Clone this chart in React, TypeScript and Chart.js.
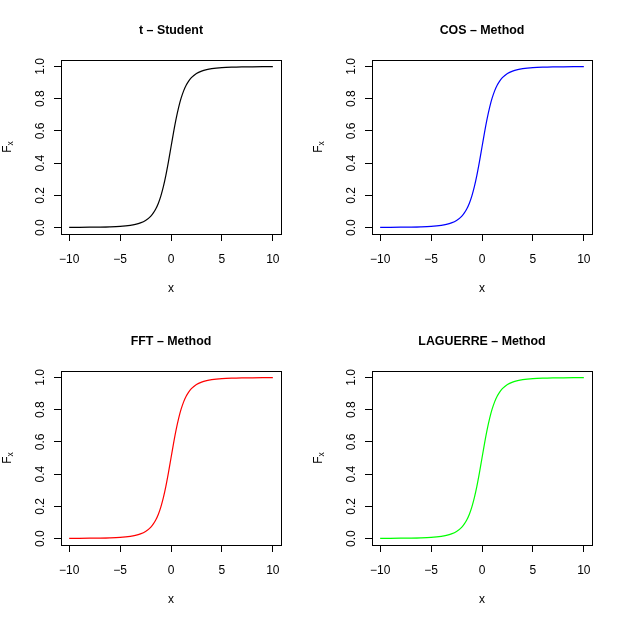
import React, { useEffect, useRef } from "react";
import { Chart, registerables } from "chart.js";

Chart.register(...registerables);

// x grid on which the distribution function was read
const xValues = [
  -10, -9, -8, -7, -6, -5, -4, -3.5, -3, -2.5, -2, -1.75, -1.5, -1.25, -1, -0.75, -0.5, -0.25,
  0, 0.25, 0.5, 0.75, 1, 1.25, 1.5, 1.75, 2, 2.5, 3, 3.5, 4, 5, 6, 7, 8, 9, 10,
];

const studentValues = [
  0.001, 0.0014, 0.0021, 0.003, 0.0046, 0.0077, 0.014, 0.0197, 0.0288, 0.0437, 0.0697, 0.0892,
  0.1153, 0.1499, 0.1955, 0.2538, 0.3257, 0.4094, 0.5, 0.5906, 0.6743, 0.7462, 0.8045, 0.8501,
  0.8847, 0.9108, 0.9303, 0.9563, 0.9712, 0.9803, 0.986, 0.9923, 0.9954, 0.997, 0.9979, 0.9986,
  0.999,
];

const cosValues = [
  0.001, 0.0014, 0.0021, 0.003, 0.0046, 0.0077, 0.014, 0.0197, 0.0288, 0.0437, 0.0697, 0.0892,
  0.1153, 0.1499, 0.1955, 0.2538, 0.3257, 0.4094, 0.5, 0.5906, 0.6743, 0.7462, 0.8045, 0.8501,
  0.8847, 0.9108, 0.9303, 0.9563, 0.9712, 0.9803, 0.986, 0.9923, 0.9954, 0.997, 0.9979, 0.9986,
  0.999,
];

const fftValues = [
  0.001, 0.0014, 0.0021, 0.003, 0.0046, 0.0077, 0.014, 0.0197, 0.0288, 0.0437, 0.0697, 0.0892,
  0.1153, 0.1499, 0.1955, 0.2538, 0.3257, 0.4094, 0.5, 0.5906, 0.6743, 0.7462, 0.8045, 0.8501,
  0.8847, 0.9108, 0.9303, 0.9563, 0.9712, 0.9803, 0.986, 0.9923, 0.9954, 0.997, 0.9979, 0.9986,
  0.999,
];

const laguerreValues = [
  0.001, 0.0014, 0.0021, 0.003, 0.0046, 0.0077, 0.014, 0.0197, 0.0288, 0.0437, 0.0697, 0.0892,
  0.1153, 0.1499, 0.1955, 0.2538, 0.3257, 0.4094, 0.5, 0.5906, 0.6743, 0.7462, 0.8045, 0.8501,
  0.8847, 0.9108, 0.9303, 0.9563, 0.9712, 0.9803, 0.986, 0.9923, 0.9954, 0.997, 0.9979, 0.9986,
  0.999,
];

const panelTitles = ["t \u2013 Student", "COS \u2013 Method", "FFT \u2013 Method", "LAGUERRE \u2013 Method"];
const panelSeries = [studentValues, cosValues, fftValues, laguerreValues];
const panelColors = ["#000000", "#0000FF", "#FF0000", "#00FF00"];

const xAxisTitle = "x";
const yAxisTitleMain = "F";
const yAxisTitleSub = "x";

const xRange = [-10.8, 10.8];
const yRange = [-0.04, 1.04];
const xStep = 5;
const yStep = 0.2;

const FONT = '"Liberation Sans", Arial, Helvetica, sans-serif';
const PANEL = 312;

function makeDecorPlugin(title: string) {
  return {
    id: "rDecor",
    afterDraw(chart: any) {
      const { ctx, chartArea } = chart;
      const { left, right, top, bottom } = chartArea;
      ctx.save();
      // box around plot region
      ctx.strokeStyle = "#000";
      ctx.lineWidth = 1;
      ctx.strokeRect(Math.round(left) + 0.5, Math.round(top) + 0.5, Math.round(right - left), Math.round(bottom - top));
      // main title
      ctx.fillStyle = "#000";
      ctx.font = `bold 12.4px ${FONT}`;
      ctx.textAlign = "center";
      ctx.textBaseline = "middle";
      ctx.fillText(title, (left + right) / 2, 31);
      // y axis title with subscript
      const mainFont = `12px ${FONT}`;
      const subFont = `8.5px ${FONT}`;
      ctx.font = mainFont;
      const wMain = ctx.measureText(yAxisTitleMain).width;
      ctx.font = subFont;
      const wSub = ctx.measureText(yAxisTitleSub).width;
      const total = wMain + wSub;
      ctx.translate(10.5, (top + bottom) / 2);
      ctx.rotate(-Math.PI / 2);
      ctx.textAlign = "left";
      ctx.textBaseline = "alphabetic";
      ctx.font = mainFont;
      ctx.fillText(yAxisTitleMain, -total / 2, 0);
      ctx.font = subFont;
      ctx.fillText(yAxisTitleSub, -total / 2 + wMain, 2.5);
      ctx.restore();
    },
  };
}

function fmtX(v: number) {
  return v < 0 ? "\u2212" + Math.abs(v) : String(v);
}

function Panel({ index, left, top }: { index: number; left: number; top: number }) {
  const ref = useRef<HTMLCanvasElement>(null);
  useEffect(() => {
    const values = panelSeries[index];
    const tickFont = { family: FONT, size: 12 };
    const chart = new Chart(ref.current as HTMLCanvasElement, {
      type: "line",
      data: {
        datasets: [
          {
            data: xValues.map((x, i) => ({ x, y: values[i] })),
            borderColor: panelColors[index],
            borderWidth: 1.2,
            pointRadius: 0,
            fill: false,
            cubicInterpolationMode: "monotone",
          },
        ],
      },
      options: {
        responsive: false,
        animation: false,
        devicePixelRatio: 1,
        layout: { padding: { top: 60, right: 31, left: 0, bottom: 0 } },
        plugins: {
          legend: { display: false },
          tooltip: { enabled: false },
          title: { display: false },
        },
        scales: {
          x: {
            type: "linear",
            min: xRange[0],
            max: xRange[1],
            border: { display: false },
            grid: { drawOnChartArea: false, drawTicks: true, tickLength: 7, color: "#000", tickColor: "#000", lineWidth: 1 },
            ticks: {
              stepSize: xStep,
              includeBounds: false,
              autoSkip: false,
              maxRotation: 0,
              padding: 11,
              font: tickFont,
              color: "#000",
              callback: (v: any) => fmtX(Number(v)),
            },
            title: { display: true, text: xAxisTitle, font: tickFont, color: "#000", padding: { top: 0, bottom: 16 } },
            afterFit: (s: any) => {
              s.height = 78;
            },
          },
          y: {
            type: "linear",
            min: yRange[0],
            max: yRange[1],
            border: { display: false },
            grid: { drawOnChartArea: false, drawTicks: true, tickLength: 7, color: "#000", tickColor: "#000", lineWidth: 1 },
            ticks: {
              stepSize: yStep,
              includeBounds: false,
              autoSkip: false,
              minRotation: 90,
              maxRotation: 90,
              crossAlign: "center",
              padding: 5,
              font: tickFont,
              color: "#000",
              callback: (v: any) => Number(v).toFixed(1),
            },
            afterFit: (s: any) => {
              s.width = 61;
            },
          },
        },
      } as any,
      plugins: [makeDecorPlugin(panelTitles[index])],
    } as any);
    return () => chart.destroy();
  }, [index]);
  return (
    <canvas
      ref={ref}
      width={PANEL}
      height={PANEL}
      style={{ position: "absolute", left, top, width: PANEL, height: PANEL, display: "block" }}
    />
  );
}

export default function App() {
  return (
    <div style={{ position: "absolute", left: 0, top: 0, width: 623, height: 623, background: "#fff" }}>
      <Panel index={0} left={0} top={0} />
      <Panel index={1} left={311} top={0} />
      <Panel index={2} left={0} top={311} />
      <Panel index={3} left={311} top={311} />
    </div>
  );
}
